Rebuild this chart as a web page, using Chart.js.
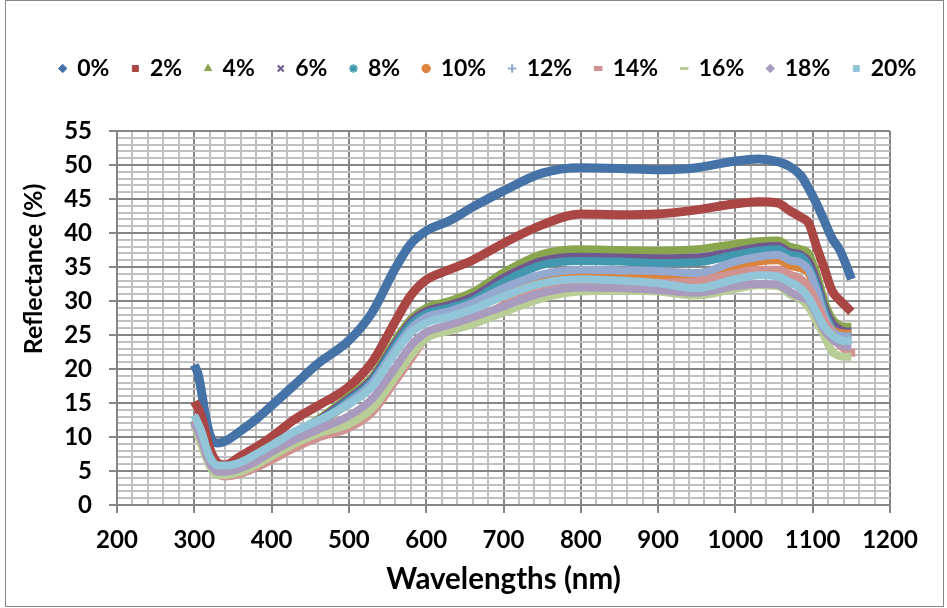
<!DOCTYPE html>
<html>
<head>
<meta charset="utf-8">
<script src="https://cdn.jsdelivr.net/npm/chart.js@4.4.1/dist/chart.umd.min.js"></script>
<style>
  html, body { margin: 0; padding: 0; background: #fff; }
  #wrap { width: 947px; height: 608px; }
</style>
</head>
<body>
<div id="wrap"><canvas id="myChart" width="947" height="608"></canvas></div>
<script>
// wavelengths in nm (shared x values)
const wavelengths = [300, 305, 310, 315, 320, 325, 330, 340, 360, 380, 400, 430, 460, 500, 530, 560, 580, 600, 630, 660,
    700, 750, 800, 850, 900, 950, 1000, 1030, 1055, 1070, 1085, 1095, 1105, 1115, 1125, 1135, 1145, 1150, 1155];

const labels = ['0%', '2%', '4%', '6%', '8%', '10%', '12%', '14%', '16%', '18%', '20%'];

// reflectance (%) per concentration
const r0 = [20.6, 19.2, 16.2, 12.8, 10.4, 9.3, 9.1, 9.4, 10.9, 12.6, 14.6, 17.7, 20.8, 24.2, 28.3, 34.8, 38.4, 40.3, 41.8, 43.8,
    46.2, 48.8, 49.6, 49.5, 49.3, 49.6, 50.6, 50.9, 50.5, 49.8, 48.4, 46.5, 44.3, 41.8, 39.2, 37.5, 34.8, 33.2, null];
const r2 = [15.2, 14.2, 12.7, 10.5, 8.3, 7.0, 6.2, 5.9, 7.2, 8.5, 10.0, 12.6, 14.6, 17.4, 21.0, 27.0, 30.8, 33.1, 34.6, 36.0,
    38.5, 41.2, 42.8, 42.7, 42.8, 43.4, 44.3, 44.6, 44.4, 43.3, 42.3, 41.4, 38.0, 34.8, 31.5, 30.1, 29.0, 28.4, null];
const r4 = [12.0, 10.5, 9.0, 7.4, 6.2, 5.4, 5.1, 5.2, 5.9, 7.1, 8.5, 10.6, 12.6, 16.0, 18.8, 24.2, 27.3, 29.0, 30.0, 31.3,
    34.2, 36.9, 37.6, 37.5, 37.4, 37.6, 38.4, 38.8, 38.9, 38.0, 37.6, 36.9, 34.0, 30.0, 27.4, 26.4, 26.2, 26.2, null];
const r6 = [12.2, 10.6, 9.0, 7.4, 6.2, 5.4, 5.1, 5.2, 5.9, 7.0, 8.4, 10.4, 12.4, 15.7, 18.5, 23.8, 26.9, 28.5, 29.4, 30.6,
    33.4, 35.9, 36.5, 36.4, 36.3, 36.4, 37.3, 37.9, 38.1, 37.2, 36.8, 35.8, 33.0, 29.2, 26.8, 25.8, 25.5, 25.5, null];
const r8 = [12.4, 10.8, 9.1, 7.4, 6.2, 5.4, 5.1, 5.2, 5.9, 7.0, 8.3, 10.3, 12.2, 15.4, 18.2, 23.4, 26.5, 28.1, 29.0, 30.1,
    32.8, 35.3, 35.9, 35.8, 35.6, 35.7, 36.8, 37.4, 37.6, 36.8, 36.5, 35.0, 32.2, 28.5, 26.0, 25.0, 24.9, 24.9, null];
const r10 = [12.0, 10.4, 8.8, 7.2, 6.0, 5.3, 5.0, 5.1, 5.8, 6.9, 8.2, 10.1, 11.9, 15.0, 17.6, 22.5, 25.5, 27.2, 28.1, 29.2,
    31.4, 33.3, 33.9, 33.8, 33.7, 33.3, 35.0, 35.8, 36.0, 35.2, 34.8, 34.0, 31.0, 27.6, 25.8, 25.3, 25.2, 25.2, null];
const r12 = [12.2, 10.6, 9.0, 7.3, 6.1, 5.4, 5.1, 5.2, 5.9, 7.0, 8.3, 10.2, 12.0, 15.1, 17.9, 22.9, 25.9, 27.6, 28.5, 29.7,
    31.9, 33.9, 34.6, 34.5, 34.4, 34.1, 35.8, 36.5, 36.8, 36.0, 35.6, 34.5, 31.5, 27.8, 25.6, 24.9, 24.8, 24.8, null];
const r14 = [12.6, 11.8, 10.4, 8.4, 6.6, 5.2, 4.5, 4.2, 4.6, 5.5, 6.6, 8.4, 9.9, 11.3, 13.6, 18.2, 21.4, 24.6, 25.9, 27.0,
    29.4, 31.8, 32.7, 32.8, 32.7, 32.9, 34.1, 34.6, 34.6, 33.9, 33.2, 32.0, 29.8, 27.2, 25.2, 23.5, 22.6, 22.4, 22.4];
const r16 = [11.8, 10.2, 8.6, 7.0, 5.7, 4.8, 4.4, 4.4, 4.9, 5.9, 7.2, 9.0, 10.5, 11.9, 14.2, 18.8, 22.0, 24.5, 25.6, 26.6,
    28.3, 30.4, 31.4, 31.5, 31.4, 30.8, 31.8, 32.3, 32.2, 31.0, 30.2, 29.0, 27.0, 24.8, 22.6, 21.9, 21.8, 21.8, null];
const r18 = [12.0, 10.8, 9.4, 7.6, 6.2, 5.3, 4.9, 4.9, 5.4, 6.4, 7.8, 9.6, 11.1, 13.1, 15.6, 20.2, 23.4, 25.4, 26.5, 27.6,
    29.2, 31.2, 32.0, 31.9, 31.6, 31.2, 32.2, 32.5, 32.4, 31.4, 30.5, 30.0, 28.0, 25.7, 24.4, 23.6, 23.3, 23.3, null];
const r20 = [13.2, 12.0, 10.6, 8.6, 7.1, 6.2, 5.8, 5.8, 6.3, 7.5, 8.8, 10.8, 12.4, 14.8, 17.4, 22.4, 25.3, 26.8, 27.7, 28.8,
    30.7, 32.6, 33.2, 33.0, 32.6, 31.9, 33.2, 33.8, 33.6, 32.8, 31.8, 30.4, 28.3, 26.2, 25.0, 24.3, 24.1, 24.3, null];

const series = [r0, r2, r4, r6, r8, r10, r12, r14, r16, r18, r20];
const colors = ['#4572A7', '#AA4643', '#89A54E', '#71588F', '#4198AF', '#DB843D',
    '#93A9CF', '#D19392', '#B9CD96', '#A99BBD', '#92C5D8'];
const markers = ['rectRot', 'rect', 'triangle', 'crossRot', 'star', 'circle', 'cross', 'line', 'line', 'rectRot', 'rect'];
const markerWidths = [1, 1, 1, 2, 2, 1, 2, 5, 3, 1, 1];

const FONT = "Lato, 'Open Sans', sans-serif";
const MAJOR = '#868686';
const MINOR = '#c0c0c0';

let datasets = series.map((vals, i) => ({
    label: labels[i],
    data: wavelengths.map((w, j) => ({x: w, y: vals[j]})),
    borderColor: colors[i],
    backgroundColor: colors[i],
    borderWidth: i < 2 ? 9 : 8,
    pointRadius: 0,
    pointStyle: markers[i],
    showLine: true,
    spanGaps: false,
    cubicInterpolationMode: 'monotone',
    order: -i
}));

// frame round the whole chart
const framePlugin = {
    id: 'frame',
    afterDraw(chart) {
        const ctx = chart.ctx;
        ctx.save();
        ctx.strokeStyle = '#868686';
        ctx.lineWidth = 1;
        ctx.strokeRect(5.5, 0.5, 938, 606);
        ctx.restore();
    }
};

// y axis title, sits a bit above the middle of the axis like the original
const yTitle = {
    id: 'yTitle',
    afterDraw(chart) {
        const ctx = chart.ctx;
        ctx.save();
        ctx.translate(34, 269);
        ctx.rotate(-Math.PI / 2);
        ctx.fillStyle = '#000';
        ctx.font = "bold 25px " + FONT;
        ctx.textAlign = 'center';
        ctx.textBaseline = 'middle';
        ctx.fillText('Reflectance (%)', 0, 0);
        ctx.restore();
    }
};

// one legend row, fixed height so the plot area starts where it should
const legendFix = {
    id: 'legendFix',
    beforeInit(chart) {
        const fit = chart.legend.fit;
        chart.legend.fit = function () {
            this.maxWidth = 1100;
            fit.bind(chart.legend)();
            this.height = 131 - 34;
        };
    },
    afterLayout(chart) {
        chart.legend.left = 0;
        chart.legend.right = 976;
    }
};

const config = {
    type: 'scatter',
    data: {datasets: datasets},
    options: {
        responsive: false,
        animation: false,
        layout: {padding: {top: 34, left: 0, right: 57, bottom: 8}},
        plugins: {
            tooltip: {enabled: false},
            legend: {
                position: 'top',
                labels: {
                    usePointStyle: true,
                    boxWidth: 6,
                    boxHeight: 6,
                    padding: 23,
                    color: '#000',
                    font: {family: FONT, size: 23, weight: 'bold'},
                    generateLabels: chart => chart.data.datasets.map((ds, i) => ({
                        text: ds.label,
                        fillStyle: ds.borderColor,
                        strokeStyle: ds.borderColor,
                        lineWidth: markerWidths[i],
                        pointStyle: ds.pointStyle,
                        hidden: false,
                        datasetIndex: i
                    }))
                }
            }
        },
        scales: {
            x: {
                type: 'linear',
                min: 200,
                max: 1200,
                afterFit: s => { s.height = 608 - 505 - 8; },
                ticks: {
                    stepSize: 20,
                    autoSkip: false,
                    maxRotation: 0,
                    padding: 13,
                    color: '#000',
                    font: {family: FONT, size: 24, weight: 'bold'},
                    callback: v => v % 100 === 0 ? v : ''
                },
                grid: {
                    color: c => c.tick && c.tick.value % 100 === 0 ? MAJOR : MINOR,
                    tickColor: c => c.tick && c.tick.value % 100 === 0 ? MAJOR : 'rgba(0,0,0,0)',
                    lineWidth: 2,
                    tickLength: 8
                },
                border: {color: MAJOR, width: 2},
                title: {
                    display: true,
                    text: 'Wavelengths (nm)',
                    color: '#000',
                    font: {family: FONT, size: 29.5, weight: 'bold'},
                    padding: {top: 0, bottom: 3}
                }
            },
            y: {
                min: 0,
                max: 55,
                afterFit: s => { s.width = 117; },
                ticks: {
                    stepSize: 1,
                    autoSkip: false,
                    padding: 17,
                    color: '#000',
                    font: {family: FONT, size: 24, weight: 'bold'},
                    callback: v => v % 5 === 0 ? v : ''
                },
                grid: {
                    color: c => c.tick && c.tick.value % 5 === 0 ? MAJOR : MINOR,
                    tickColor: c => c.tick && c.tick.value % 5 === 0 ? MAJOR : 'rgba(0,0,0,0)',
                    lineWidth: 2,
                    tickLength: 8
                },
                border: {color: MAJOR, width: 2}
            }
        }
    },
    plugins: [framePlugin, yTitle, legendFix]
};

var myChart = new Chart(document.getElementById('myChart'), config);
</script>
</body>
</html>
